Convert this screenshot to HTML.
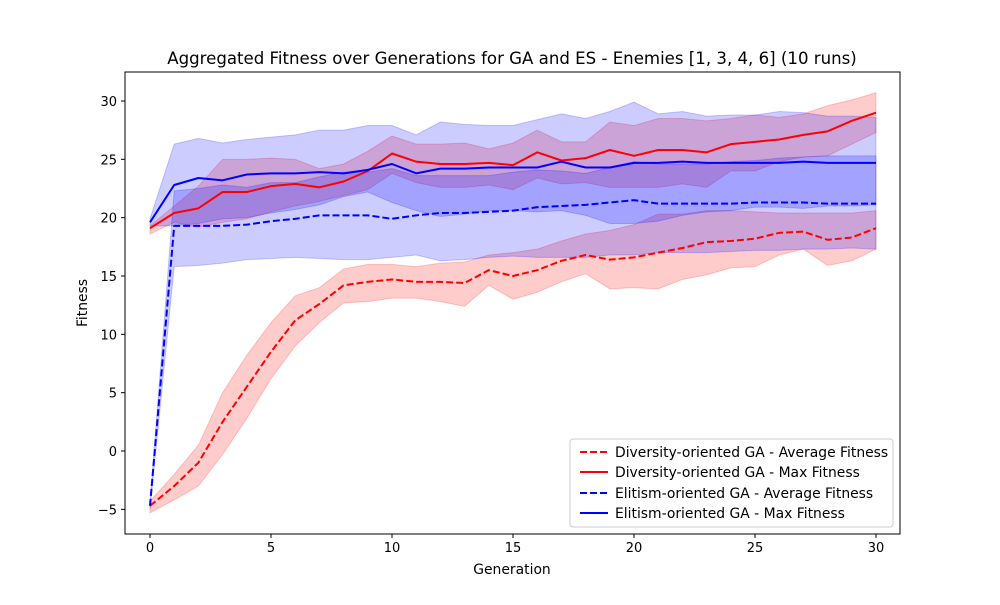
<!DOCTYPE html>
<html><head><meta charset="utf-8"><style>
body{margin:0;background:#fff}
svg{font-family:"DejaVu Sans","Liberation Sans",sans-serif}
</style></head><body>
<svg id="chart" width="1000" height="600" viewBox="0 0 1000 600" xmlns="http://www.w3.org/2000/svg">
<rect width="1000" height="600" fill="#fff"/>
<text x="512" y="64" text-anchor="middle" font-size="16.6">Aggregated Fitness over Generations for GA and ES - Enemies [1, 3, 4, 6] (10 runs)</text>
<g id="bands"></g><g id="lines"></g><g id="axes"></g>
<text x="512" y="574" text-anchor="middle" font-size="13.9">Generation</text>
<text transform="translate(87,303) rotate(-90)" text-anchor="middle" font-size="13.9">Fitness</text>
<g>
<rect x="570" y="439" width="323" height="88" rx="3" fill="#fff" fill-opacity="0.8" stroke="#ccc"/>
<line x1="580" y1="452" x2="608" y2="452" stroke="red" stroke-width="2" stroke-dasharray="7,3"/>
<text x="615" y="457" font-size="13.9">Diversity-oriented GA - Average Fitness</text>
<line x1="580" y1="472" x2="608" y2="472" stroke="red" stroke-width="2"/>
<text x="615" y="477" font-size="13.9">Diversity-oriented GA - Max Fitness</text>
<line x1="580" y1="493" x2="608" y2="493" stroke="blue" stroke-width="2" stroke-dasharray="7,3"/>
<text x="615" y="498" font-size="13.9">Elitism-oriented GA - Average Fitness</text>
<line x1="580" y1="513" x2="608" y2="513" stroke="blue" stroke-width="2"/>
<text x="615" y="518" font-size="13.9">Elitism-oriented GA - Max Fitness</text>
</g>
</svg>
<script>
const generations=[...Array(31).keys()];
const redAvg=[-4.7,-3.0,-1.0,2.5,5.5,8.5,11.2,12.6,14.2,14.5,14.7,14.5,14.5,14.4,15.5,15.0,15.5,16.3,16.8,16.4,16.6,17.0,17.4,17.9,18.0,18.2,18.7,18.8,18.1,18.3,19.1];
const redAvgLo=[-5.3,-4.2,-3.0,-0.3,2.8,6.2,9.0,11.0,12.7,12.8,13.1,13.1,12.8,12.4,14.2,13.0,13.6,14.5,15.2,13.9,14.0,13.9,14.7,15.1,15.7,15.8,16.8,17.3,15.9,16.3,17.3];
const redAvgHi=[-4.3,-2.0,0.5,5.0,8.2,11.0,13.3,14.0,15.6,16.0,16.0,15.8,16.1,16.2,16.8,17.0,17.3,18.0,18.6,18.9,19.4,20.3,20.3,20.6,20.6,20.5,20.4,20.4,20.4,20.4,20.6];
const redMax=[19.1,20.4,20.8,22.2,22.2,22.7,22.9,22.6,23.1,24.0,25.5,24.8,24.6,24.6,24.7,24.5,25.6,24.9,25.1,25.8,25.3,25.8,25.8,25.6,26.3,26.5,26.7,27.1,27.4,28.3,29.0];
const redMaxHi=[19.3,21.0,22.7,25.0,25.0,25.1,25.0,24.2,24.6,25.7,27.0,26.3,26.3,26.4,25.9,26.4,27.5,26.5,26.5,28.2,27.9,28.5,28.5,28.3,28.5,28.8,28.6,28.9,29.6,30.1,30.7];
const redMaxLo=[18.6,19.6,19.2,19.6,19.9,20.5,21.0,21.4,21.9,22.4,23.8,23.0,22.6,22.6,22.8,22.4,23.4,22.9,23.0,22.6,22.6,22.6,22.9,22.6,24.0,24.0,24.8,25.2,25.3,26.3,27.3];
const blueMax=[19.6,22.8,23.4,23.2,23.7,23.8,23.8,23.9,23.8,24.1,24.6,23.8,24.2,24.2,24.3,24.3,24.3,24.8,24.3,24.3,24.7,24.7,24.8,24.7,24.7,24.7,24.7,24.8,24.7,24.7,24.7];
const blueMaxHi=[19.9,26.3,26.8,26.4,26.7,26.9,27.1,27.5,27.5,27.9,27.9,27.1,28.2,28.0,27.9,27.9,28.4,28.9,28.5,29.1,29.9,28.9,29.1,28.7,28.8,28.8,29.1,29.0,28.7,28.7,28.6];
const blueMaxLo=[19.3,19.3,19.5,19.9,20.0,20.4,20.7,21.1,21.8,22.2,21.3,20.6,20.1,20.3,20.6,20.6,20.5,20.6,20.2,19.5,19.5,19.7,20.2,20.5,20.6,20.9,20.9,20.8,21.0,21.0,21.1];
const blueAvg=[-4.7,19.3,19.3,19.3,19.4,19.7,19.9,20.2,20.2,20.2,19.9,20.2,20.4,20.4,20.5,20.6,20.9,21.0,21.1,21.3,21.5,21.2,21.2,21.2,21.2,21.3,21.3,21.3,21.2,21.2,21.2];
const blueAvgHi=[-4.5,22.3,22.5,22.8,22.6,23.0,23.0,23.5,23.9,23.9,24.2,23.6,23.6,23.6,23.6,23.9,24.1,24.0,23.8,24.3,24.8,24.6,24.6,24.6,24.8,24.9,25.1,25.2,25.3,25.3,25.3];
const blueAvgLo=[-5.0,15.8,15.9,16.1,16.4,16.5,16.6,16.5,16.4,16.4,16.6,16.8,16.3,16.4,16.6,16.7,16.6,16.6,16.6,16.8,16.8,17.0,17.0,17.0,17.1,17.2,17.2,17.3,17.3,17.4,17.3];
const xTicks=[0,5,10,15,20,25,30];
const yTicks=[-5,0,5,10,15,20,25,30];

const NS="http://www.w3.org/2000/svg";
const L=125,R=900,T=72,B=534;
const xs=g=>150+(876-150)*g/30;
const ys=v=>451-v*(451-101)/30;
function mk(tag,attrs,parent){const e=document.createElementNS(NS,tag);for(const k in attrs)e.setAttribute(k,attrs[k]);parent.appendChild(e);return e;}
const bands=document.getElementById('bands'),lines=document.getElementById('lines'),axes=document.getElementById('axes');
function band(lo,hi,color,name){
  let d=generations.map((g,i)=>(i?'L':'M')+xs(g)+','+ys(hi[i])).join('');
  for(let i=generations.length-1;i>=0;i--)d+='L'+xs(generations[i])+','+ys(lo[i]);
  const p=mk('path',{d:d+'Z',fill:color,'fill-opacity':0.2,stroke:color,'stroke-opacity':0.2},bands);
  
  
}
function line(vals,color,dash,name){
  const d=generations.map((g,i)=>(i?'L':'M')+xs(g)+','+ys(vals[i])).join('');
  const p=mk('path',{d:d,fill:'none',stroke:color,'stroke-width':2,'stroke-dasharray':dash?'7,3':'none','stroke-linejoin':'round'},lines);
  
  
}
band(redAvgLo,redAvgHi,'red','red-avg-band');
band(redMaxLo,redMaxHi,'red','red-max-band');
band(blueAvgLo,blueAvgHi,'blue','blue-avg-band');
band(blueMaxLo,blueMaxHi,'blue','blue-max-band');
line(redAvg,'red',true,'red-avg-line');
line(redMax,'red',false,'red-max-line');
line(blueAvg,'blue',true,'blue-avg-line');
line(blueMax,'blue',false,'blue-max-line');
const frame=mk('rect',{x:L,y:T,width:R-L,height:B-T,fill:'none',stroke:'#000','stroke-width':1},axes);


xTicks.forEach(t=>{
  mk('line',{x1:xs(t),x2:xs(t),y1:B,y2:B+4,stroke:'#000'},axes);
  const tx=mk('text',{x:xs(t),y:B+18,'text-anchor':'middle','font-size':13},axes);tx.textContent=t;
  
  
});
yTicks.forEach(t=>{
  mk('line',{x1:L-4,x2:L,y1:ys(t),y2:ys(t),stroke:'#000'},axes);
  const tx=mk('text',{x:L-8,y:ys(t)+5,'text-anchor':'end','font-size':13},axes);tx.textContent=t<0?'\u2212'+(-t):t;
  
  
});
</script>
</body></html>
